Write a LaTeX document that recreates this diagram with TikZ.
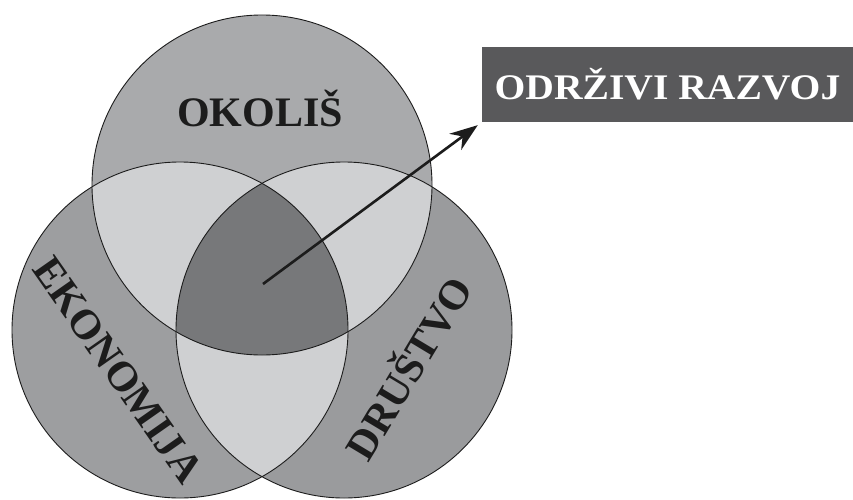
\documentclass[tikz,border=0pt]{standalone}
\usepackage{fontspec}
\setmainfont{Liberation Serif}
\usetikzlibrary{arrows.meta}
\definecolor{topc}{HTML}{A9AAAC}
\definecolor{leftc}{HTML}{9D9EA0}
\definecolor{rightc}{HTML}{9A9B9D}
\definecolor{lensc}{HTML}{CFD0D2}
\definecolor{centc}{HTML}{77787A}
\definecolor{boxc}{HTML}{59595B}
\definecolor{inkc}{HTML}{1C1C1C}
\begin{document}
\begin{tikzpicture}[x=1pt,y=-1pt,
  ring/.style={draw=inkc, line width=0.9pt},
  lbl/.style={font=\fontsize{42}{42}\selectfont\bfseries, text=inkc, inner sep=0pt},
  title/.style={fill=boxc, text=white, font=\fontsize{36}{36}\selectfont\bfseries,
    minimum width=371pt, minimum height=75pt, inner sep=0pt},
  pointer/.style={draw=inkc, line width=2.6pt, -{Stealth[length=28pt,width=20pt]}, shorten >=5pt}]
\useasboundingbox (0,0) rectangle (853,500);
\fill[white] (0,0) rectangle (853,500);
\coordinate (T) at (262,185);
\coordinate (L) at (180,330);
\coordinate (R) at (344,330);
% base fills
\fill[leftc] (L) circle (168pt);
\fill[rightc] (R) circle (168pt);
\fill[topc] (T) circle (170pt);
% pairwise lenses
\begin{scope}
  \clip (T) circle (170pt);
  \fill[lensc] (L) circle (168pt);
  \fill[lensc] (R) circle (168pt);
\end{scope}
\begin{scope}
  \clip (L) circle (168pt);
  \fill[lensc] (R) circle (168pt);
  \clip (R) circle (168pt);
  \fill[centc] (T) circle (170pt);
\end{scope}
% outlines
\draw[ring] (L) circle (168pt);
\draw[ring] (R) circle (168pt);
\draw[ring] (T) circle (170pt);
% labels
\node[lbl] (ok) at (260,108) {OKOLIŠ};
\node[lbl, rotate=-55] (ek) at (118,370) {EKONOMIJA};
\node[lbl, rotate=59] (dr) at (406,367) {DRUŠTVO};
% title box
\node[title] (box) at (667.5,84.5) {\scalebox{1.1}[1]{ODRŽIVI RAZVOJ}};
% arrow
\coordinate (c) at (263,284);
\draw[pointer] (c) -- (box.south west);
\end{tikzpicture}
\end{document}
